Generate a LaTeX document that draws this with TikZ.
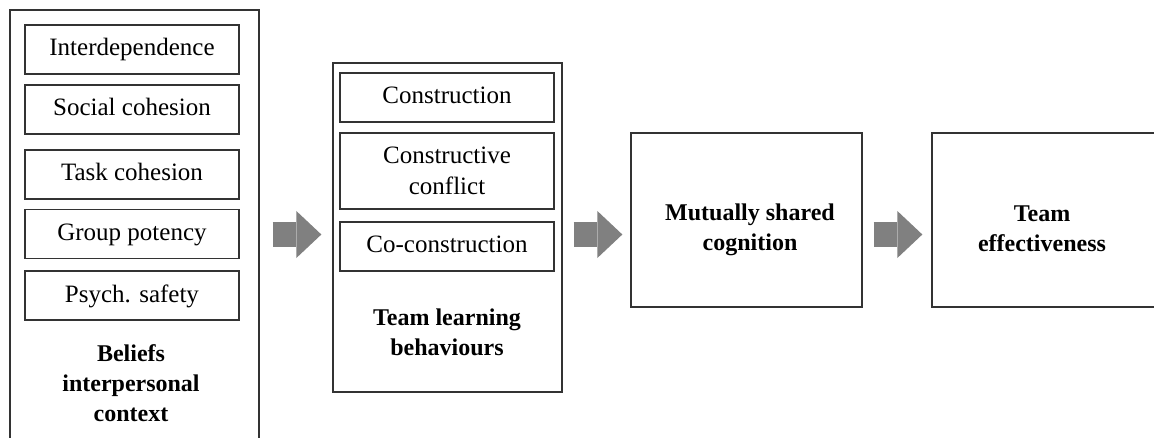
\documentclass[tikz,border=0pt]{standalone}
\usepackage{fontspec}
\setmainfont{Liberation Serif}
\usepackage{xcolor}
\usepackage{tikz}
\usetikzlibrary{arrows.meta,positioning}

\tikzset{
	outerbox/.style={draw=black!80,line width=1.3pt,inner sep=0pt},
	itembox/.style={draw=black!80,line width=1.3pt,minimum width=214pt,minimum height=49pt,
		inner sep=0pt,align=center,font=\fontsize{25}{31}\selectfont},
	oneline/.style={text height=17pt,text depth=4pt},
	titletext/.style={align=center,inner sep=0pt,font=\fontsize{24}{30}\bfseries\selectfont},
	flowarrow/.style={draw=gray,line width=25pt,-{Triangle[length=25pt,width=47pt,line width=0pt]}}
}

\begin{document}
\begin{tikzpicture}[x=1pt,y=1pt]
	\useasboundingbox (0,0) rectangle (1154,437);
	\clip (0,0) rectangle (1154,437);
	% the four stages
	\node[outerbox,minimum width=249pt,minimum height=437pt] (beliefs) at (134.5,208.5) {};
	\node[outerbox,minimum width=229pt,minimum height=329pt] (tlb) at (447.5,209.5) {};
	\node[outerbox,minimum width=231pt,minimum height=174pt] (cog) at (746.5,217) {};
	\node[outerbox,minimum width=231pt,minimum height=174pt] (eff) at (1047.5,217) {};
	% items of the first stage
	\foreach \name/\txt/\y in {inter/Interdependence/387.5,soc/Social cohesion/327.5,
		task/Task cohesion/262.5,pot/Group potency/203,safe/Psych. safety/141.5}
	\node[itembox,oneline] (\name) at (132,\y) {\txt};
	% items of the second stage
	\node[itembox,oneline] (constr) at (447,339.5) {Construction};
	\node[itembox,minimum height=76pt] (conflict) at (447,266) {Constructive\\conflict};
	\node[itembox,oneline] (coconstr) at (447,190.5) {Co-construction};
	% titles
	\node[titletext,anchor=north] (beliefstxt) at (131,93) {Beliefs\\interpersonal\\context};
	\node[titletext,anchor=north] (tlbtxt) at (447,128) {Team learning\\behaviours};
	\node[titletext] (cogtxt) at (750,207) {Mutually shared\\cognition};
	\node[titletext] (efftxt) at (1042,208) {Team\\effectiveness};
	% arrows
	\coordinate (arrowrow) at (0,202.5);
	\draw[flowarrow,shorten <=13pt,shorten >=11pt] (beliefs.east |- arrowrow) -- (tlb.west |- arrowrow);
	\draw[flowarrow,shorten <=11pt,shorten >=8pt] (tlb.east |- arrowrow) -- (cog.west |- arrowrow);
	\draw[flowarrow,shorten <=11pt,shorten >=9pt] (cog.east |- arrowrow) -- (eff.west |- arrowrow);
\end{tikzpicture}
\end{document}
